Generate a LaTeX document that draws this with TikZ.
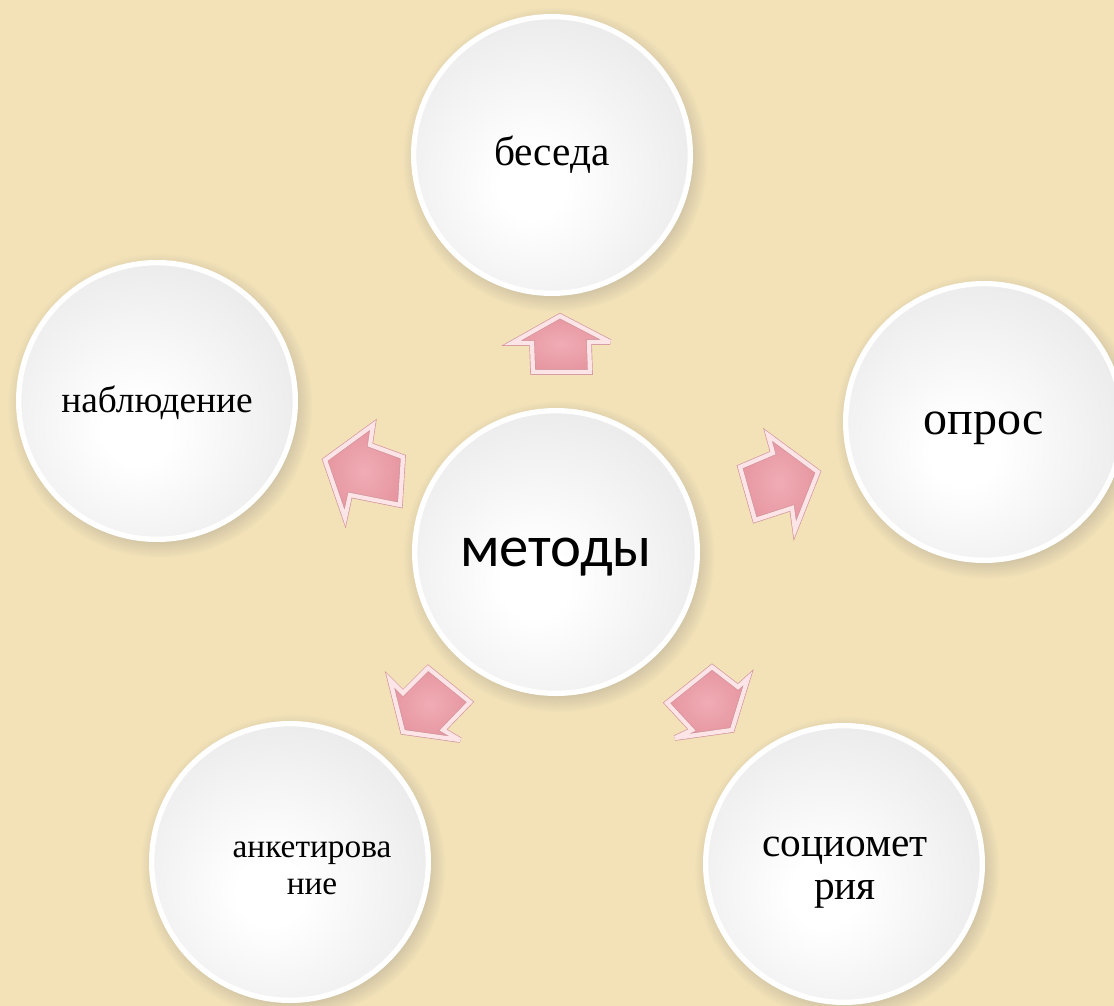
\documentclass[tikz,border=0pt]{standalone}
\usepackage{fontspec}
\setmainfont{Liberation Serif}
\newfontfamily\methfont{Carlito}
\usetikzlibrary{shadows,calc}
\definecolor{bgcol}{RGB}{243,226,184}
\definecolor{arrowfill}{RGB}{230,150,160}
\definecolor{arrowinner}{RGB}{240,172,180}
\definecolor{arrowedge}{RGB}{210,148,156}
\definecolor{arrowbevel}{RGB}{252,228,231}
\pgfdeclareradialshading{ballshade}{\pgfpoint{-4bp}{-6bp}}{%
  color(0bp)=(white); color(6bp)=(white); color(30bp)=(black!8); color(50bp)=(black!17); color(70bp)=(black!17)}
\tikzset{
  x=0.75pt, y=0.75pt,
  ball/.style={circle, draw=white, line width=4pt, shading=ballshade,
    circular drop shadow={shadow xshift=2pt, shadow yshift=-3pt, opacity=0.3, fill=black!60},
    align=center, inner sep=0pt, text=black},
  outer/.style={ball, minimum size=207.5pt},
  center/.style={ball, minimum size=212pt},
  arrowbody/.style={draw=arrowedge, double=arrowbevel, double distance=3.2pt, line width=0.5pt,
    inner color=arrowinner, outer color=arrowfill, line join=miter, miter limit=4,
    drop shadow={shadow xshift=1pt, shadow yshift=-1.5pt, opacity=0.2}},
  lbl/.style={inner sep=0pt, align=center, text=black}
}
\begin{document}
\begin{tikzpicture}
\fill[bgcol] (0,0) rectangle (1114,-1006);
\useasboundingbox (0,0) rectangle (1114,-1006);

\node[center] (m) at (556,-552) {};
\node[outer] (b) at (552,-155) {};
\node[outer] (n) at (157,-401) {};
\node[outer] (o) at (984,-422) {};
\node[outer] (a) at (290,-862) {};
\node[outer] (s) at (844,-864) {};

\node[lbl, font=\methfont\fontsize{44}{50}\selectfont, anchor=base] (mt) at ($(m.center)+(0,-14)$) {методы};
\node[lbl, font=\fontsize{31}{36}\selectfont, anchor=base] (bt) at ($(b.center)+(0,-10)$) {беседа};
\node[lbl, font=\fontsize{28}{32}\selectfont, anchor=base] (nt) at ($(n.center)+(0,-11)$) {наблюдение};
\node[lbl, font=\fontsize{36}{42}\selectfont, anchor=base] (ot) at ($(o.center)+(0,-12)$) {опрос};
\node[lbl, font=\fontsize{25}{28}\selectfont, anchor=base] (at) at ($(a.center)+(22,5)$) {анкетирова};
\node[lbl, font=\fontsize{25}{28}\selectfont, anchor=base] (at2) at ($(a.center)+(22,-32)$) {ние};
\node[lbl, font=\fontsize{31}{32}\selectfont, anchor=base] (st) at ($(s.center)+(1,8)$) {социомет};
\node[lbl, font=\fontsize{31}{32}\selectfont, anchor=base] (st2) at ($(s.center)+(1,-35)$) {рия};

% block arrows (drawn as shapes, with their slight 3D perspective)
\path[arrowbody] (533,-372) -- (532,-343) -- (512,-343) -- (560,-316) -- (610,-342) -- (589,-342) -- (590,-372) -- cycle;
\path[arrowbody] (403,-457) -- (370,-445) -- (373,-425) -- (325,-460) -- (345,-518) -- (350,-495) -- (400,-505) -- cycle;
\path[arrowbody] (740,-467) -- (773,-453) -- (768,-435) -- (818,-472) -- (795,-530) -- (792,-508) -- (755,-520) -- cycle;
\path[arrowbody] (428,-668) -- (470,-702) -- (443,-730) -- (460,-740) -- (403,-732) -- (390,-680) -- (403,-693) -- cycle;
\path[arrowbody] (712,-667) -- (738,-687) -- (748,-678) -- (732,-730) -- (675,-738) -- (692,-730) -- (667,-703) -- cycle;
\end{tikzpicture}
\end{document}
